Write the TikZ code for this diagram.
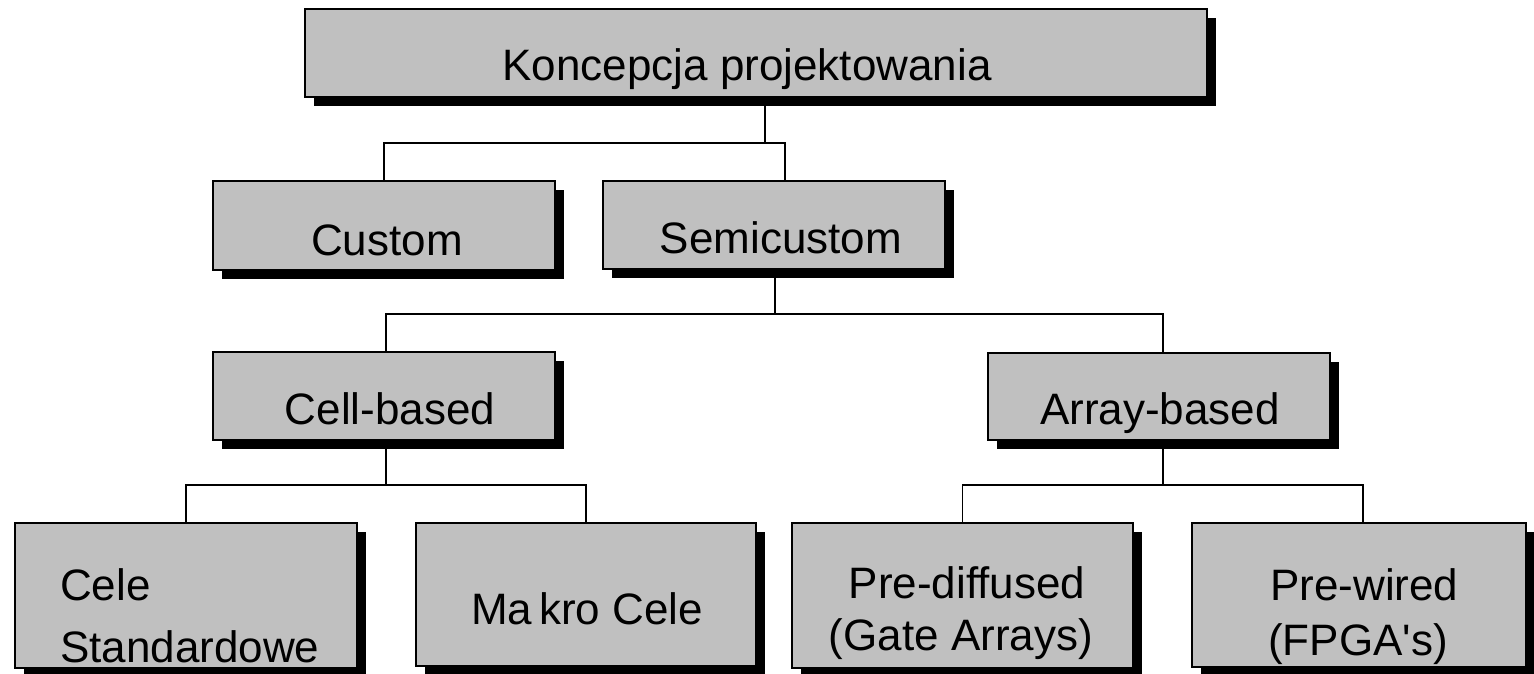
\documentclass[tikz,border=0pt]{standalone}
\usepackage{fontspec}
\setmainfont{Liberation Sans}
\usetikzlibrary{shadows,backgrounds}

\begin{document}
\begin{tikzpicture}[x=1pt, y=-1pt,
  box/.style={draw=black, line width=2pt, fill=boxgray, inner sep=0pt,
    drop shadow={shadow xshift=9pt, shadow yshift=-9pt, opacity=1, fill=black}},
  label/.style={inner sep=0pt, anchor=base, font=\fontsize{44}{52}\selectfont},
  link/.style={line width=1.7pt, black}]
\definecolor{boxgray}{RGB}{192,192,192}
\useasboundingbox (0,0) rectangle (1534,674);

% boxes of the hierarchy
\node[box, minimum width=902pt, minimum height=88pt] (top)    at (756,53) {};
\node[box, minimum width=342pt, minimum height=89pt] (custom) at (384,225.5) {};
\node[box, minimum width=342pt, minimum height=88pt] (semi)   at (774,225) {};
\node[box, minimum width=342pt, minimum height=88pt] (cell)   at (384,396) {};
\node[box, minimum width=342pt, minimum height=87pt] (array)  at (1159,396) {};
\node[box, minimum width=342pt, minimum height=145pt] (std)   at (186,595.5) {};
\node[box, minimum width=340pt, minimum height=143pt] (makro) at (586,594.5) {};
\node[box, minimum width=341pt, minimum height=145pt] (pred)  at (962.5,595.5) {};
\node[box, minimum width=334pt, minimum height=144pt] (prew)  at (1359,595) {};

% texts
\node[label] (tTop)    at (747,81)  {Koncepcja projektowania};
\node[label] (tCustom) at (387,255) {Custom};
\node[label] (tSemi)   at (781,253) {Semicustom};
\node[label] (tCell)   at (390,424) {Cell-based};
\node[label] (tArray)  at (1160,424) {Array-based};
\node[label, anchor=base west] (tStdA) at (60,600) {Cele};
\node[label, anchor=base west] (tStdB) at (60,662) {Standardowe};
\node[label] (tMakro)  at (587,624) {Ma\kern7pt kro Cele};
\node[label] (tPredA)  at (967,598) {Pre-diffused};
\node[label] (tPredB)  at (961,650) {(Gate Arrays)};
\node[label, anchor=base west] (tPrewA) at (1270,600) {Pre-wired};
\node[label, anchor=base west] (tPrewB) at (1268,655) {(FPGA\textquotesingle s)};

% connectors, behind the boxes
\coordinate (r1) at (0,143);
\coordinate (r2) at (0,314);
\coordinate (r3) at (0,485);
\begin{scope}[on background layer]
  \draw[link] ([xshift=9pt]top.south) -- ([xshift=9pt]top.south |- r1);
  \draw[link] (custom.north) -- (custom.north |- r1)
    -- ([xshift=11pt]semi.north |- r1) -- ([xshift=11pt]semi.north);
  \draw[link] ([xshift=1pt]semi.south) -- ([xshift=1pt]semi.south |- r2);
  \draw[link] ([xshift=2pt]cell.north) -- ([xshift=2pt]cell.north |- r2)
    -- ([xshift=4pt]array.north |- r2) -- ([xshift=4pt]array.north);
  \draw[link] ([xshift=2pt]cell.south) -- ([xshift=2pt]cell.south |- r3);
  \draw[link] (std.north) -- (std.north |- r3)
    -- (makro.north |- r3) -- (makro.north);
  \draw[link] ([xshift=4pt]array.south) -- ([xshift=4pt]array.south |- r3);
  \draw[link] (pred.north) -- (pred.north |- r3)
    -- ([xshift=4pt]prew.north |- r3) -- ([xshift=4pt]prew.north);
\end{scope}
\end{tikzpicture}
\end{document}
